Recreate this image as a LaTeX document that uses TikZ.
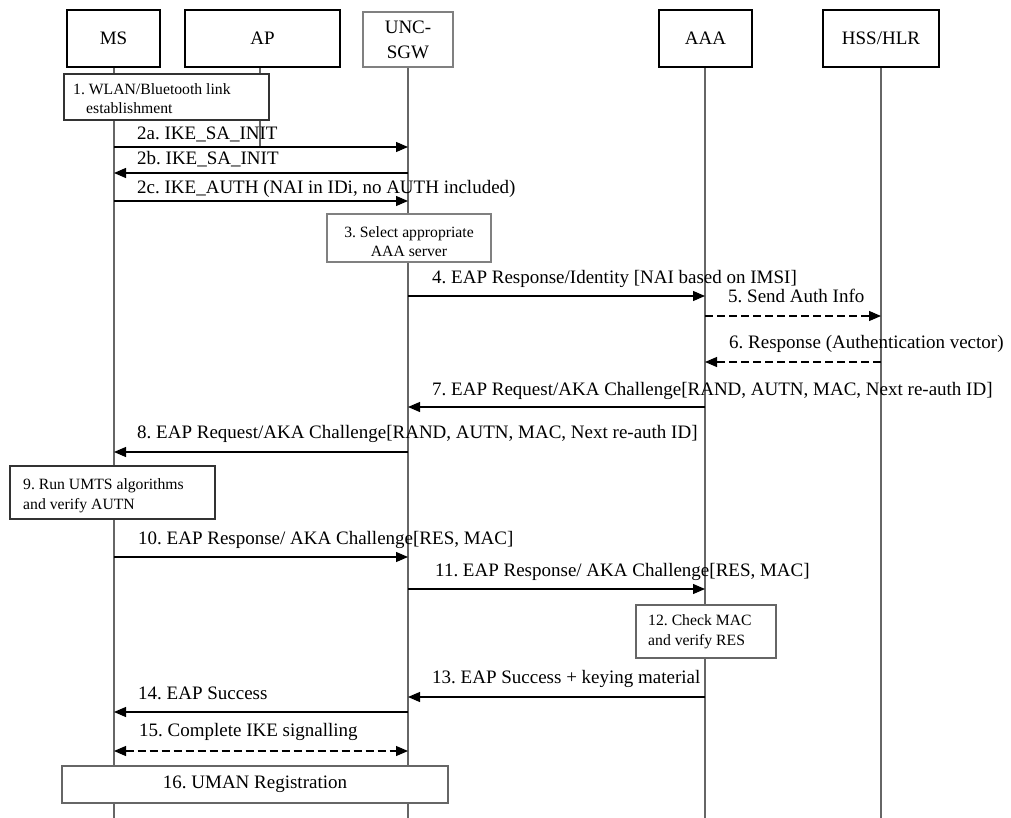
\documentclass[tikz,border=0pt]{standalone}
\usepackage{fontspec}
\setmainfont{Liberation Serif}
\usetikzlibrary{arrows.meta}
\frenchspacing
\begin{document}
\begin{tikzpicture}[x=1pt,y=-1pt,
  lbl/.style={font=\fontsize{19}{21}\selectfont, anchor=base west, inner sep=0pt},
  head/.style={draw=black, line width=1.1pt, fill=white, font=\fontsize{19}{25}\selectfont, minimum height=57pt, inner sep=0pt, align=center},
  note/.style={draw=black!80, line width=1.1pt, fill=white, inner sep=0pt},
  ntext/.style={font=\fontsize{15.7}{19}\selectfont, inner sep=0pt, anchor=base west},
  life/.style={draw=black!60, line width=1.1pt},
  msg/.style={line width=1.1pt, -{Triangle[length=12pt,width=10pt]}},
  dmsg/.style={line width=1.1pt, dash pattern=on 8pt off 4pt, -{Triangle[length=12pt,width=10pt]}},
  bmsg/.style={line width=1.1pt, dash pattern=on 8pt off 4pt, {Triangle[length=12pt,width=10pt]}-{Triangle[length=12pt,width=10pt]}},
]
\useasboundingbox (0,0) rectangle (1011,818);

% lifeline anchors
\coordinate (lMS) at (114,67);
\coordinate (lAP) at (260,67);
\coordinate (lSGW) at (408,67);
\coordinate (lAAA) at (705,67);
\coordinate (lHSS) at (881,67);
\coordinate (eMS) at (114,818);
\coordinate (eAP) at (260,147);
\coordinate (eSGW) at (408,818);
\coordinate (eAAA) at (705,818);
\coordinate (eHSS) at (881,818);

\draw[life] (lMS) -- (eMS);
\draw[life] (lAP) -- (eAP);
\draw[life] (lSGW) -- (eSGW);
\draw[life] (lAAA) -- (eAAA);
\draw[life] (lHSS) -- (eHSS);

% messages
\draw[msg] (lMS |- 0,147) -- (lSGW |- 0,147);
\draw[msg] (lSGW |- 0,173) -- (lMS |- 0,173);
\draw[msg] (lMS |- 0,201) -- (lSGW |- 0,201);
\draw[msg] (lSGW |- 0,296) -- (lAAA |- 0,296);
\draw[dmsg] (lAAA |- 0,316) -- (lHSS |- 0,316);
\draw[dmsg] (lHSS |- 0,362) -- (lAAA |- 0,362);
\draw[msg] (lAAA |- 0,407) -- (lSGW |- 0,407);
\draw[msg] (lSGW |- 0,452) -- (lMS |- 0,452);
\draw[msg] (lMS |- 0,557) -- (lSGW |- 0,557);
\draw[msg] (lSGW |- 0,589) -- (lAAA |- 0,589);
\draw[msg] (lAAA |- 0,697) -- (lSGW |- 0,697);
\draw[msg] (lSGW |- 0,712) -- (lMS |- 0,712);
\draw[bmsg] (lMS |- 0,751) -- (lSGW |- 0,751);

% header boxes
\node[head, minimum width=93pt] (MS) at (113.5,38.5) {MS};
\node[head, minimum width=155pt] (AP) at (262.5,38.5) {AP};
\node[head, draw=black!50, minimum width=90pt, minimum height=55pt] (SGW) at (408,39.5) {UNC-\\SGW};
\node[head, minimum width=93pt] (AAA) at (705.5,38.5) {AAA};
\node[head, minimum width=116pt] (HSS) at (881,38.5) {HSS/HLR};

% note boxes
\node[note, minimum width=205pt, minimum height=46pt] (n1) at (166.5,97) {};
\node[ntext] (n1a) at (73,95) {1. WLAN/Bluetooth link};
\node[ntext] (n1b) at (86,114) {establishment};

\node[note, draw=black!50, minimum width=164pt, minimum height=48pt] (n3) at (409,238) {};
\node[ntext, anchor=base] (n3a) at (409,237.5) {3. Select appropriate};
\node[ntext, anchor=base] (n3b) at (409,256.5) {AAA server};

\node[note, minimum width=205pt, minimum height=53pt] (n9) at (112.5,492.5) {};
\node[ntext] (n9a) at (23,489) {9. Run UMTS algorithms};
\node[ntext] (n9b) at (23,509) {and verify AUTN};

\node[note, draw=black!60, minimum width=140pt, minimum height=53pt] (n12) at (706,631.5) {};
\node[ntext] (n12a) at (648,625) {12. Check MAC};
\node[ntext] (n12b) at (648,645) {and verify RES};

\node[note, draw=black!60, minimum width=386pt, minimum height=37pt, font=\fontsize{19}{21}\selectfont] (n16) at (255,784.5) {16. UMAN Registration};

% labels
\node[lbl] (m2a) at (137,139.5) {2a. IKE\_SA\_INIT};
\node[lbl] (m2b) at (137,165) {2b. IKE\_SA\_INIT};
\node[lbl] (m2c) at (137,193.3) {2c. IKE\_AUTH (NAI in IDi, no AUTH included)};
\node[lbl] (m4) at (432,283.3) {4. EAP Response/Identity [NAI based on IMSI]};
\node[lbl] (m5) at (728,302.7) {5. Send Auth Info};
\node[lbl] (m6) at (729,348.3) {6. Response (Authentication vector)};
\node[lbl] (m7) at (432,395) {7. EAP Request/AKA Challenge[RAND, AUTN, MAC, Next re-auth ID]};
\node[lbl] (m8) at (137,438.3) {8. EAP Request/AKA Challenge[RAND, AUTN, MAC, Next re-auth ID]};
\node[lbl] (m10) at (138,544) {10. EAP Response/ AKA Challenge[RES, MAC]};
\node[lbl] (m11) at (435,576.7) {11. EAP Response/ AKA Challenge[RES, MAC]};
\node[lbl] (m13) at (432,683.3) {13. EAP Success + keying material};
\node[lbl] (m14) at (138,699.3) {14. EAP Success};
\node[lbl] (m15) at (139,736.7) {15. Complete IKE signalling};
\end{tikzpicture}
\end{document}
